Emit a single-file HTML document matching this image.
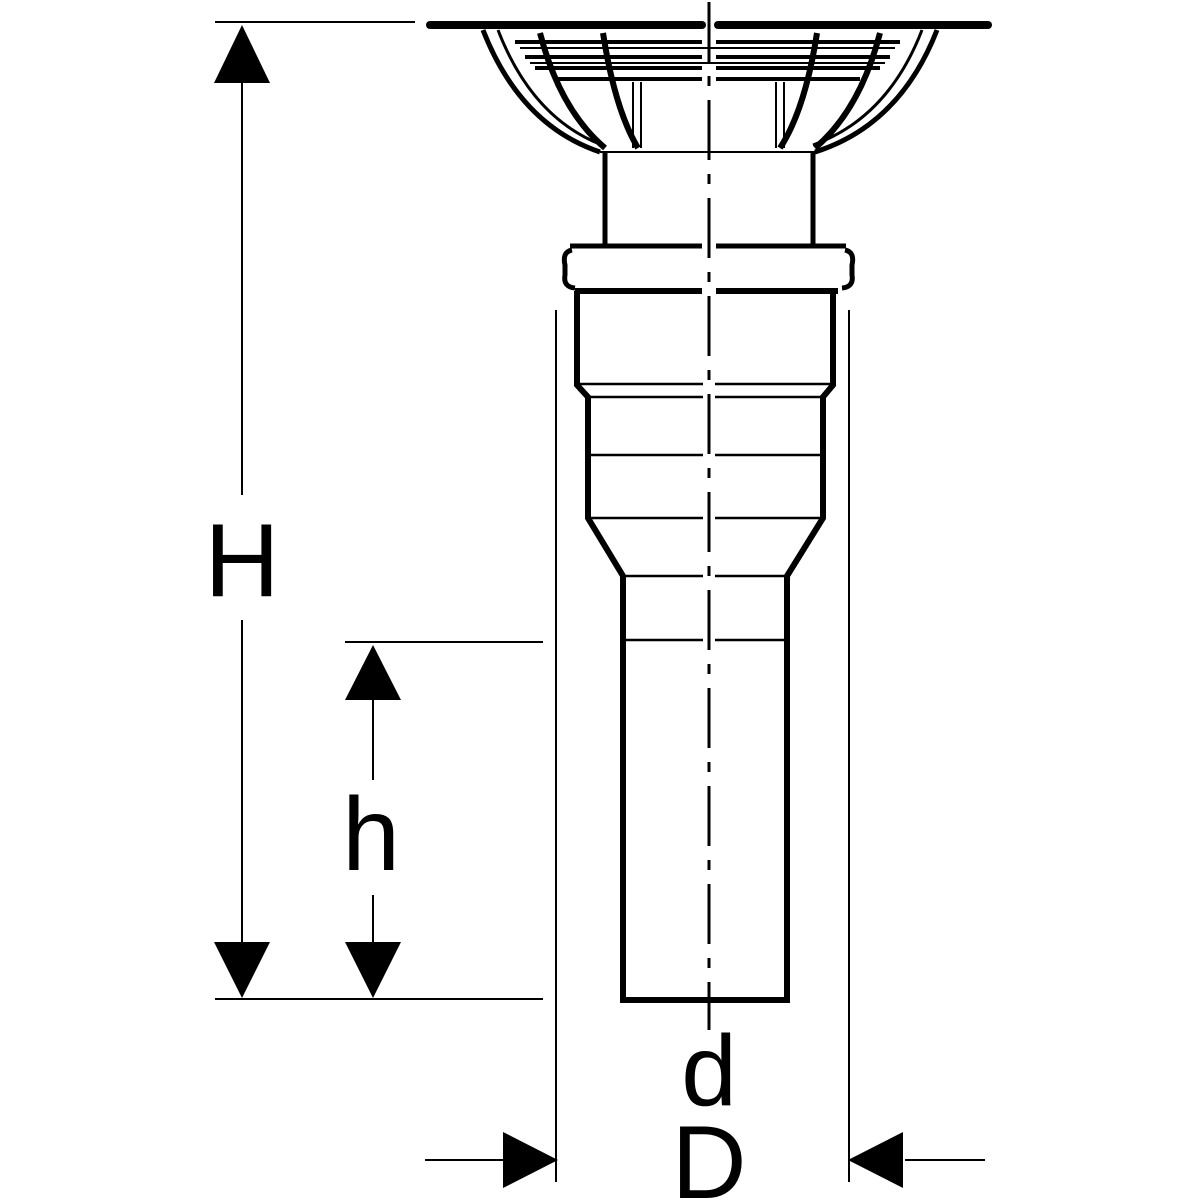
<!DOCTYPE html>
<html><head><style>html,body{margin:0;padding:0;background:#fff}svg{display:block}</style></head>
<body>
<svg width="1200" height="1200" viewBox="0 0 1200 1200" xmlns="http://www.w3.org/2000/svg">
<g stroke="#000" fill="none" stroke-linecap="butt">
<line x1="430" y1="25" x2="702" y2="25" stroke-width="8" stroke-linecap="round"/>
<line x1="718" y1="25" x2="988" y2="25" stroke-width="8" stroke-linecap="round"/>
<path d="M483 30 Q520 125 600 152" stroke-width="5"/>
<path d="M498 30 Q532 118 602 145" stroke-width="3"/>
<path d="M937 30 Q900 125 815 152" stroke-width="5"/>
<path d="M922 30 Q888 118 813 145" stroke-width="3"/>
<path d="M540 33 Q560 110 605 148" stroke-width="6"/>
<path d="M603 33 Q615 110 638 148" stroke-width="6"/>
<path d="M880 33 Q860 110 815 148" stroke-width="6"/>
<path d="M817 33 Q805 110 780 148" stroke-width="6"/>
<g stroke-width="4">
<line x1="515" y1="42" x2="702" y2="42"/><line x1="716" y1="42" x2="900" y2="42"/>
<line x1="525" y1="57" x2="702" y2="57"/><line x1="716" y1="57" x2="890" y2="57"/>
<line x1="535" y1="68" x2="702" y2="68"/><line x1="716" y1="68" x2="880" y2="68"/>
<line x1="555" y1="79" x2="702" y2="79"/><line x1="716" y1="79" x2="860" y2="79"/>
</g>
<g stroke-width="2">
<line x1="520" y1="48" x2="895" y2="48"/>
<line x1="530" y1="63" x2="885" y2="63"/>
</g>
<line x1="633" y1="82" x2="633" y2="148" stroke-width="2"/>
<line x1="641" y1="82" x2="641" y2="148" stroke-width="2"/>
<line x1="776" y1="82" x2="776" y2="148" stroke-width="2"/>
<line x1="784" y1="82" x2="784" y2="148" stroke-width="2"/>
<line x1="600" y1="152" x2="815" y2="152" stroke-width="2"/>
<line x1="605" y1="152" x2="605" y2="245" stroke-width="5"/>
<line x1="813" y1="152" x2="813" y2="245" stroke-width="5"/>
<line x1="570" y1="246" x2="702" y2="246" stroke-width="5"/>
<line x1="716" y1="246" x2="846" y2="246" stroke-width="5"/>
<path d="M572 250 Q562 252 565 265 L565 275 Q563 287 575 288" stroke-width="5"/>
<path d="M845 250 Q855 252 852 265 L852 275 Q854 287 842 288" stroke-width="5"/>
<line x1="575" y1="291" x2="702" y2="291" stroke-width="6"/>
<line x1="716" y1="291" x2="838" y2="291" stroke-width="6"/>
<path d="M577 291 L577 385 L588 397 L588 518 L623 576 L623 1000 L787 1000 L787 576 L823 518 L823 397 L833 385 L833 291" stroke-width="6" stroke-linejoin="miter"/>
<g stroke-width="2.5">
<line x1="578" y1="384" x2="703" y2="384"/><line x1="715" y1="384" x2="832" y2="384"/>
<line x1="588" y1="397" x2="703" y2="397"/><line x1="715" y1="397" x2="823" y2="397"/>
<line x1="588" y1="455" x2="703" y2="455"/><line x1="715" y1="455" x2="823" y2="455"/>
<line x1="590" y1="518" x2="703" y2="518"/><line x1="715" y1="518" x2="821" y2="518"/>
<line x1="625" y1="576" x2="703" y2="576"/><line x1="715" y1="576" x2="785" y2="576"/>
<line x1="625" y1="640" x2="703" y2="640"/><line x1="715" y1="640" x2="785" y2="640"/>
</g>
<line x1="709" y1="2" x2="709" y2="1030" stroke-width="3" stroke-dasharray="60,14,10,14"/>
<g stroke-width="2">
<line x1="215" y1="22" x2="415" y2="22"/>
<line x1="345" y1="642" x2="543" y2="642"/>
<line x1="215" y1="999" x2="543" y2="999"/>
<line x1="556" y1="310" x2="556" y2="1182"/>
<line x1="849" y1="310" x2="849" y2="1182"/>
<line x1="242" y1="80" x2="242" y2="495"/>
<line x1="242" y1="620" x2="242" y2="945"/>
<line x1="373" y1="698" x2="373" y2="780"/>
<line x1="373" y1="895" x2="373" y2="945"/>
<line x1="425" y1="1160" x2="505" y2="1160"/>
<line x1="905" y1="1160" x2="985" y2="1160"/>
</g>
</g>
<g fill="#000">
<polygon points="242,25 214,83 270,83"/>
<polygon points="242,998 214,942 270,942"/>
<polygon points="373,645 345,700 401,700"/>
<polygon points="373,998 345,942 401,942"/>
<polygon points="558,1160 503,1132 503,1188"/>
<polygon points="848,1160 903,1132 903,1188"/>
</g>
<g font-family="Liberation Sans, sans-serif" fill="#000" text-anchor="middle">
<text x="242" y="596" font-size="104">H</text>
<text x="371" y="870" font-size="104">h</text>
<text x="709" y="1105" font-size="100">d</text>
<text x="709" y="1198" font-size="104">D</text>
</g>
</svg>
</body></html>
